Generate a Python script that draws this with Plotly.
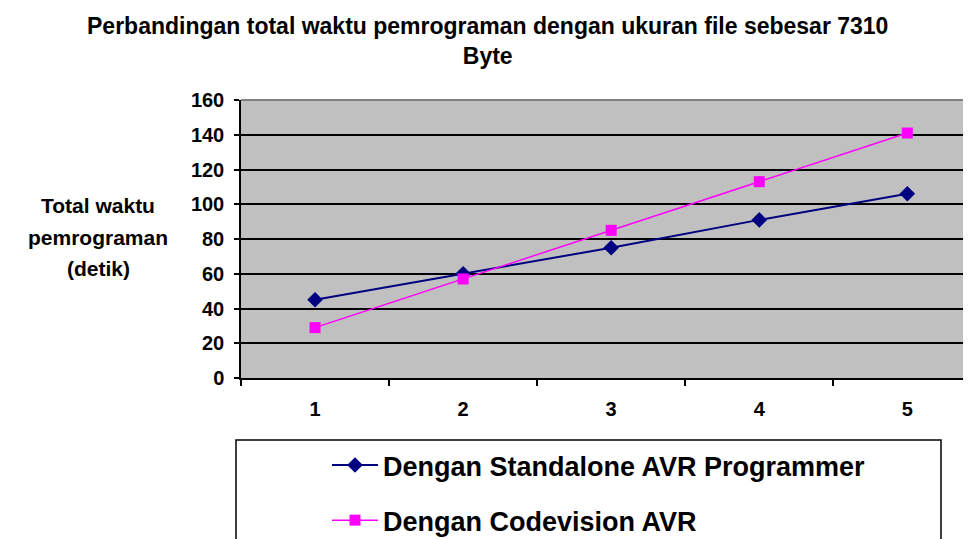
import plotly.graph_objects as go

categories = ["1", "2", "3", "4", "5"]
standalone = [45, 60, 75, 91, 106]
codevision = [29, 57, 85, 113, 141]
y_ticks = [0, 20, 40, 60, 80, 100, 120, 140, 160]

title_text = "Perbandingan total waktu pemrograman dengan ukuran file sebesar 7310<br>Byte"
ytitle_lines = ["Total waktu", "pemrograman", "(detik)"]
names = ["Dengan Standalone AVR Programmer", "Dengan Codevision AVR"]

FONT = "Liberation Sans, Arial, sans-serif"

fig = go.Figure()
fig.add_trace(go.Scatter(
    x=categories, y=standalone, mode="lines+markers", name=names[0],
    line=dict(color="#000080", width=2),
    marker=dict(symbol="diamond", size=12, color="#000080"),
    legendgroup="a",
))
fig.add_trace(go.Scatter(
    x=categories, y=codevision, mode="lines+markers", name=names[1],
    line=dict(color="#FF00FF", width=1.5),
    marker=dict(symbol="square", size=11, color="#FF00FF"),
    legendgroup="b",
))

# the page body has an 8px margin, so the figure is drawn at (8, 8)
OFF = 8
W, H = 971 - OFF, 539 - OFF
# plot area in screen pixels: x 241..971, y 100..378
L, R, T = 241 - OFF, 0, 100 - OFF
B = H - (378 - OFF)
pw = W - L - R
ph = H - T - B

def px_x(x):
    return (x - OFF - L) / pw

def px_y(y):
    return (H - B - (y - OFF)) / ph

annotations = [
    dict(text=title_text, xref="paper", yref="paper", x=px_x(487), y=px_y(41.5),
         xanchor="center", yanchor="middle", showarrow=False, align="center",
         font=dict(size=23, family=FONT, weight="bold")),
]
for line, ypx in zip(ytitle_lines, [205, 237, 268]):
    annotations.append(dict(text=line, xref="paper", yref="paper", x=px_x(98), y=px_y(ypx),
                            xanchor="center", yanchor="middle", showarrow=False,
                            font=dict(size=21, family=FONT, weight="bold")))

fig.update_layout(
    width=W, height=H,
    margin=dict(l=L, r=R, t=T, b=B, autoexpand=False),
    paper_bgcolor="white",
    plot_bgcolor="#C0C0C0",
    font=dict(family=FONT, color="black"),
    xaxis=dict(type="category", range=[-0.5, 4.43], tickson="boundaries",
               showgrid=False, showline=True, linecolor="black", linewidth=1.5,
               ticks="outside", ticklen=6, tickcolor="black", tickwidth=1.5,
               tickfont=dict(size=20, family=FONT, weight="bold"),
               ticklabelstandoff=12),
    yaxis=dict(range=[0, 160], tickvals=y_ticks, showgrid=True,
               gridcolor="black", gridwidth=2, zeroline=False,
               showline=True, linecolor="black", linewidth=1.5,
               ticks="outside", ticklen=5, tickcolor="black", tickwidth=1.5,
               tickfont=dict(size=20, family=FONT, weight="bold"),
               ticklabelstandoff=6),
    showlegend=True,
    legend=dict(x=px_x(327), xanchor="left", y=px_y(441), yanchor="top",
                bgcolor="rgba(0,0,0,0)", borderwidth=0, itemwidth=46,
                traceorder="grouped", tracegroupgap=17,
                font=dict(size=27, family=FONT, weight="bold")),
    shapes=[
        dict(type="rect", xref="paper", yref="paper",
             x0=px_x(236), x1=px_x(941), y0=px_y(560), y1=px_y(440),
             line=dict(color="black", width=1.5), fillcolor="white", layer="below"),
        dict(type="line", xref="paper", yref="paper",
             x0=0, x1=1, y0=1, y1=1, line=dict(color="#808080", width=2), layer="above"),
    ],
    annotations=annotations,
)

fig.write_html("out.html")
